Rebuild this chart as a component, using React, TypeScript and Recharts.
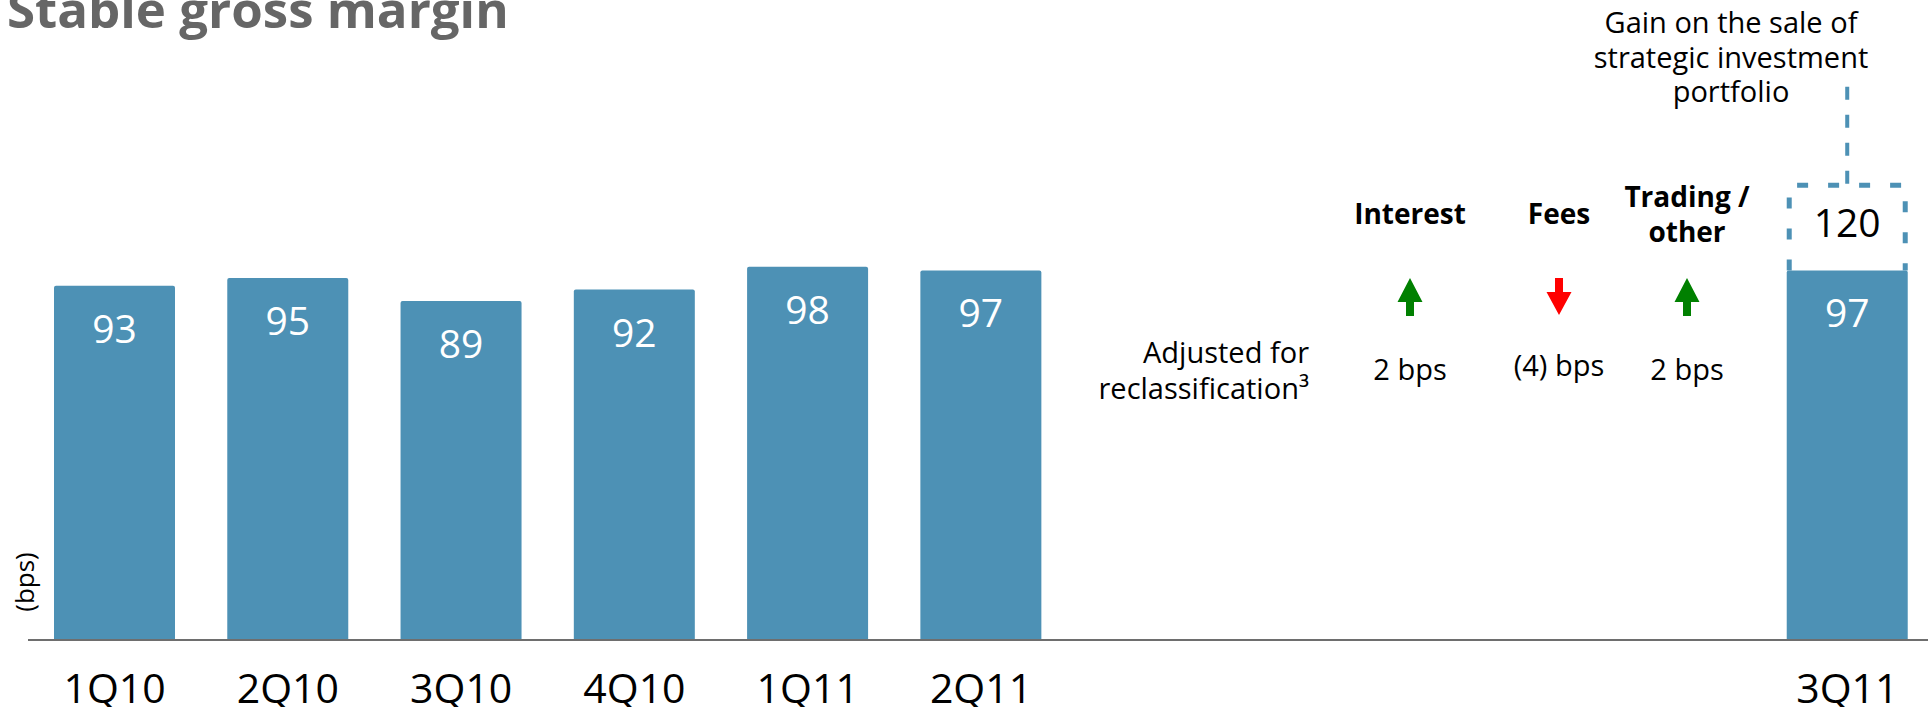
import { Bar, BarChart, LabelList, XAxis, YAxis } from "recharts";

const FONT = "'Open Sans', 'Noto Sans', sans-serif";
const BLUE = "#4D91B5";

// quarters, with empty slots where the bridge annotations sit
const categories = ["1Q10", "2Q10", "3Q10", "4Q10", "1Q11", "2Q11", "gap1", "gap2", "gap3", "gap4", "3Q11"];
const adjusted = [93, 95, 89, 92, 98, 97, null, null, null, null, 97];
const reported = [null, null, null, null, null, null, null, null, null, null, 120];

const drivers = [["Interest"], ["Fees"], ["Trading /", "other"]];
const driverChanges = [2, -4, 2];

const gainNote = ["Gain on the sale of", "strategic investment", "portfolio"];
const adjustNote = ["Adjusted for", "reclassification³"];

const data = categories.map((name, i) => ({
  name,
  adjusted: adjusted[i],
  gain: reported[i] != null && adjusted[i] != null ? (reported[i] as number) - (adjusted[i] as number) : null,
  reported: reported[i],
}));

const driverX = [1410, 1559, 1687];

function CategoryTick({ x, y, payload }: any) {
  if (String(payload.value).startsWith("gap")) return null;
  return (
    <text x={x} y={Number(y) + 63} textAnchor="middle" fontSize={41} fill="#000" fontFamily={FONT}>
      {payload.value}
    </text>
  );
}

function ValueLabel({ x, y, width, value }: any) {
  if (value == null) return null;
  return (
    <text x={Number(x) + Number(width) / 2} y={Number(y) + 57} textAnchor="middle" fontSize={39} fill="#fff" fontFamily={FONT}>
      {value}
    </text>
  );
}

function ReportedLabel({ x, y, width, value }: any) {
  if (value == null) return null;
  return (
    <text x={Number(x) + Number(width) / 2} y={Number(y) + 54} textAnchor="middle" fontSize={39} fill="#000" fontFamily={FONT}>
      {value}
    </text>
  );
}

function GainBox({ x, y, width, height }: any) {
  if (!height) return <g />;
  const l = x + 2.5;
  const r = x + width - 2.5;
  const t = y + 2.5;
  const b = y + height;
  const cx = x + width / 2;
  return (
    <g>
      <path d={`M${l},${b} V${t} H${r} V${b}`} fill="none" stroke={BLUE} strokeWidth={5} strokeDasharray="11 20" />
      <path d={`M${cx},${y - 96} V${t}`} fill="none" stroke={BLUE} strokeWidth={4} strokeDasharray="13 15" />
    </g>
  );
}

function Arrow({ cx, up }: { cx: number; up: boolean }) {
  const d = up
    ? `M${cx},278 L${cx + 12.5},302 H${cx + 4} V316 H${cx - 4} V302 H${cx - 12.5} Z`
    : `M${cx},315 L${cx + 12.5},292 H${cx + 4} V278 H${cx - 4} V292 H${cx - 12.5} Z`;
  return <path d={d} fill={up ? "#008000" : "#FF0000"} />;
}

const fmtBps = (v: number) => (v >= 0 ? `${v} bps` : `(${-v}) bps`);

export default function App() {
  return (
    <div style={{ position: "absolute", left: 0, top: 0, width: 1928, height: 707, overflow: "hidden", background: "#fff" }}>
      <BarChart width={1940} height={707} data={data} margin={{ top: 0, right: 6, left: 28, bottom: 0 }}>
        <XAxis
          dataKey="name"
          height={67}
          tickLine={false}
          tickSize={0}
          tickMargin={0}
          interval={0}
          axisLine={{ stroke: "#6E6E6E", strokeWidth: 2 }}
          tick={<CategoryTick />}
        />
        <YAxis hide domain={[0, 168]} />
        <Bar dataKey="adjusted" stackId="a" fill={BLUE} barSize={121} radius={[2, 2, 0, 0]} isAnimationActive={false}>
          <LabelList dataKey="adjusted" content={<ValueLabel />} />
        </Bar>
        <Bar dataKey="gain" stackId="a" barSize={121} shape={(p: any) => <GainBox {...p} />} isAnimationActive={false}>
          <LabelList dataKey="reported" content={<ReportedLabel />} />
        </Bar>
      </BarChart>

      <svg width={1928} height={707} style={{ position: "absolute", left: 0, top: 0, pointerEvents: "none" }} fontFamily={FONT}>
        <text x={7} y={28} fontSize={51} fontWeight="bold" fill="#666">
          Stable gross margin
        </text>

        <text transform="translate(34,582) rotate(-90)" textAnchor="middle" fontSize={26} fill="#000">
          (bps)
        </text>

        {gainNote.map((line, i) => (
          <text key={line} x={1731} y={33 + i * 34.5} textAnchor="middle" fontSize={29} fill="#000">
            {line}
          </text>
        ))}

        {adjustNote.map((line, i) => (
          <text key={line} x={1309} y={363 + i * 36} textAnchor="end" fontSize={29} fill="#000">
            {line}
          </text>
        ))}

        {drivers.map((lines, i) => (
          <g key={lines.join(" ")}>
            {lines.map((line, j) => (
              <text
                key={line}
                x={driverX[i]}
                y={lines.length === 1 ? 224 : 207 + j * 35}
                textAnchor="middle"
                fontSize={28}
                fontWeight="bold"
                fill="#000"
              >
                {line}
              </text>
            ))}
            <Arrow cx={driverX[i]} up={driverChanges[i] >= 0} />
            <text x={driverX[i]} y={driverChanges[i] >= 0 ? 380 : 376} textAnchor="middle" fontSize={29} fill="#000">
              {fmtBps(driverChanges[i])}
            </text>
          </g>
        ))}
      </svg>
    </div>
  );
}
